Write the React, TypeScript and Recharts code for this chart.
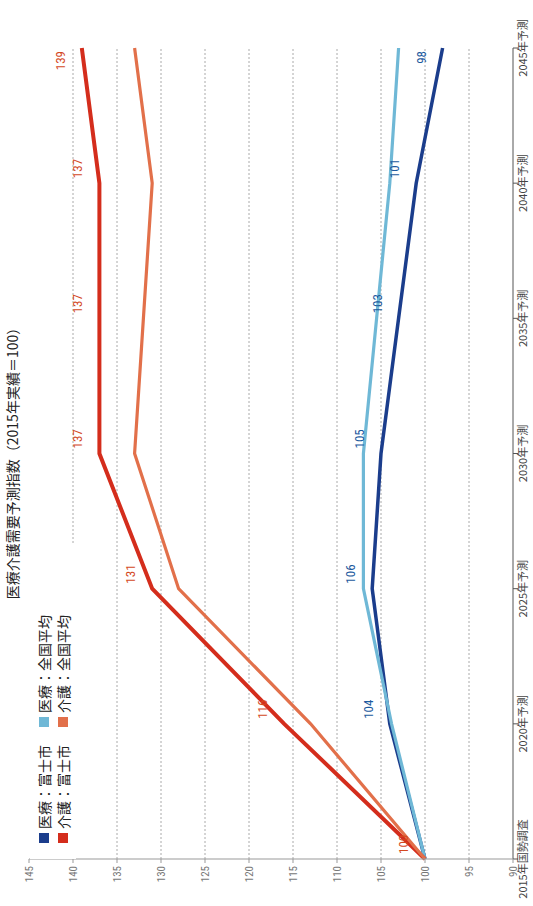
import React from 'react';
import { LineChart, Line, XAxis, YAxis, CartesianGrid, LabelList, Legend } from 'recharts';

const years = [2015, 2020, 2025, 2030, 2035, 2040, 2045];
const yearLabels = ['2015年国勢調査', '2020年予測', '2025年予測', '2030年予測', '2035年予測', '2040年予測', '2045年予測'];
const iryoFuji = [100, 104, 106, 105, 103, 101, 98];
const iryoZenkoku = [100, 103.8, 107, 107, 105.5, 104, 103];
const kaigoFuji = [100, 116, 131, 137, 137, 137, 139];
const kaigoZenkoku = [100, 113, 128, 133, 132, 131, 133];
const valueTicks = [90, 95, 100, 105, 110, 115, 120, 125, 130, 135, 140, 145];
const gridValues = [95, 100, 105, 110, 115, 120, 125, 130, 135, 140];
const seriesNames = ['医療：富士市', '医療：全国平均', '介護：富士市', '介護：全国平均'];
const seriesColors = ['#1b3d8c', '#6fb8d6', '#d42d1c', '#e2704a'];
const titleText = '医療介護需要予測指数（2015年実績＝100）';

const data = years.map((y, i) => ({
  year: y,
  iryoFuji: iryoFuji[i],
  iryoZenkoku: iryoZenkoku[i],
  kaigoFuji: kaigoFuji[i],
  kaigoZenkoku: kaigoZenkoku[i],
}));

const numFont = '"Liberation Sans Narrow", "Roboto Condensed", "Noto Sans CJK JP", sans-serif';
const cjkFont = '"Noto Sans CJK JP", "Noto Sans", sans-serif';

const makeLabel = (color: string, skipFirst: boolean) => (props: any) => {
  const { x, y, value, index } = props;
  if (skipFirst && index === 0) return null;
  const last = index === years.length - 1;
  return (
    <text
      x={last ? x - 3 : x + 5}
      y={y - 17}
      textAnchor={last ? 'end' : 'start'}
      fill={color}
      fontSize={13}
      fontFamily={numFont}
    >
      {value}
    </text>
  );
};

const renderLegend = () => (
  <div
    style={{
      display: 'grid',
      gridTemplateColumns: '116px auto',
      paddingLeft: 16,
      paddingTop: 4,
      fontFamily: cjkFont,
      fontSize: 14,
      color: '#222',
    }}
  >
    {[0, 1, 2, 3].map((i) => (
      <div key={i} style={{ display: 'flex', alignItems: 'center', height: 19, whiteSpace: 'nowrap' }}>
        <span style={{ display: 'inline-block', width: 10, height: 10, background: seriesColors[i], marginRight: 4 }} />
        <span>{seriesNames[i]}</span>
      </div>
    ))}
  </div>
);

export default function App() {
  return (
    <div style={{ position: 'fixed', left: 0, top: 0, width: 533, height: 906, overflow: 'hidden', background: '#fff' }}>
      <div
        style={{
          position: 'absolute',
          left: 0,
          top: 0,
          width: 906,
          height: 533,
          transformOrigin: '0 0',
          transform: 'translate(0px, 906px) rotate(-90deg)',
          background: '#fff',
        }}
      >
        <LineChart width={906} height={533} data={data} margin={{ top: 29, right: 48, bottom: 0, left: 0 }}>
          <CartesianGrid horizontal vertical={false} horizontalValues={gridValues} stroke="#aaa" strokeDasharray="2 2" />
          <XAxis
            dataKey="year"
            type="number"
            domain={[2015, 2045]}
            ticks={years}
            interval={0}
            tickFormatter={(v: number) => yearLabels[years.indexOf(v)]}
            height={20}
            tickSize={5}
            tickMargin={1}
            axisLine={{ stroke: '#555' }}
            tickLine={{ stroke: '#555' }}
            tick={{ fill: '#444', fontSize: 11, fontFamily: cjkFont }}
          />
          <YAxis
            type="number"
            domain={[90, 145]}
            ticks={valueTicks}
            interval={0}
            width={47}
            tickSize={4}
            tickMargin={3}
            axisLine={{ stroke: '#999' }}
            tickLine={{ stroke: '#999' }}
            tick={{ fill: '#777', fontSize: 11, fontFamily: numFont }}
          />
          <Legend
            layout="horizontal"
            verticalAlign="middle"
            align="center"
            wrapperStyle={{ top: 30, left: 47, width: 316, height: 46, background: '#fff' }}
            content={renderLegend}
          />
          <Line type="linear" dataKey="iryoFuji" name={seriesNames[0]} stroke={seriesColors[0]} strokeWidth={3.5} dot={false} isAnimationActive={false} />
          <Line type="linear" dataKey="iryoZenkoku" name={seriesNames[1]} stroke={seriesColors[1]} strokeWidth={3.2} dot={false} isAnimationActive={false} />
          <Line type="linear" dataKey="kaigoFuji" name={seriesNames[2]} stroke={seriesColors[2]} strokeWidth={4} dot={false} isAnimationActive={false} />
          <Line type="linear" dataKey="kaigoZenkoku" name={seriesNames[3]} stroke={seriesColors[3]} strokeWidth={3.2} dot={false} isAnimationActive={false} />
          <Line type="linear" dataKey="iryoFuji" legendType="none" stroke="none" dot={false} activeDot={false} isAnimationActive={false}>
            <LabelList dataKey="iryoFuji" content={makeLabel('#1d5a9e', true)} />
          </Line>
          <Line type="linear" dataKey="kaigoFuji" legendType="none" stroke="none" dot={false} activeDot={false} isAnimationActive={false}>
            <LabelList dataKey="kaigoFuji" content={makeLabel('#d4481e', false)} />
          </Line>
        </LineChart>
        <div
          style={{
            position: 'absolute',
            left: 0,
            top: 3,
            width: 892,
            textAlign: 'center',
            fontFamily: cjkFont,
            fontSize: 14,
            lineHeight: '18px',
            color: '#222',
            zIndex: 5,
          }}
        >
          {titleText}
        </div>
      </div>
    </div>
  );
}
